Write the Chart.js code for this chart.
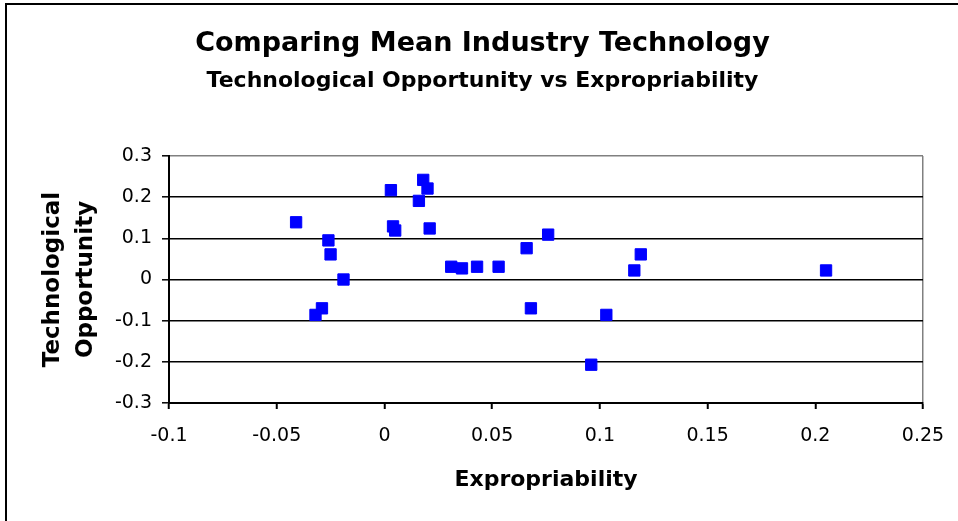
<!DOCTYPE html>
<html>
<head>
<meta charset="utf-8">
<title>Comparing Mean Industry Technology</title>
<script src="https://cdn.jsdelivr.net/npm/chart.js@4/dist/chart.umd.min.js"></script>
<style>
  html, body { margin: 0; padding: 0; background: #ffffff; }
  #wrap { position: relative; width: 958px; height: 521px; }
</style>
</head>
<body>
<div id="wrap"><canvas id="chart" width="958" height="521"></canvas></div>
<script>
// Industry means: expropriability (x) against technological opportunity (y)
const expropriability = [
  -0.041, -0.026, -0.025, -0.019, -0.029, -0.032,
   0.003,  0.004,  0.005,  0.018,  0.020,  0.016, 0.021,
   0.031,  0.036,  0.043,  0.053,  0.066,  0.076, 0.068,
   0.103,  0.096,  0.116,  0.119,  0.205
];
const techOpportunity = [
   0.139,  0.095,  0.061,  0.000, -0.070, -0.086,
   0.217,  0.129,  0.119,  0.242,  0.221,  0.191, 0.124,
   0.031,  0.027,  0.031,  0.031,  0.076,  0.109, -0.070,
  -0.086, -0.207,  0.022,  0.061,  0.022
];

const xTickValues = [-0.1, -0.05, 0, 0.05, 0.1, 0.15, 0.2, 0.25];
const xTickLabels = ['-0.1', '-0.05', '0', '0.05', '0.1', '0.15', '0.2', '0.25'];
const yTickValues = [-0.3, -0.2, -0.1, 0, 0.1, 0.2, 0.3];
const yTickLabels = ['-0.3', '-0.2', '-0.1', '0', '0.1', '0.2', '0.3'];

const titleText = 'Comparing Mean Industry Technology';
const subtitleText = 'Technological Opportunity vs Expropriability';
const xTitle = 'Expropriability';
const yTitle = ['Technological', 'Opportunity'];

const points = expropriability.map((x, i) => ({ x: x, y: techOpportunity[i] }));

const FONT = "'DejaVu Sans', 'Liberation Sans', Arial, sans-serif";

// white page with the frame lines along the left and top edges
const framePlugin = {
  id: 'frame',
  beforeDraw(chart) {
    const ctx = chart.ctx;
    ctx.save();
    ctx.fillStyle = '#ffffff';
    ctx.fillRect(0, 0, chart.width, chart.height);
    ctx.strokeStyle = '#000000';
    ctx.lineWidth = 2;
    ctx.beginPath();
    ctx.moveTo(6, 3);
    ctx.lineTo(6, chart.height);
    ctx.moveTo(5, 4);
    ctx.lineTo(chart.width, 4);
    ctx.stroke();
    ctx.restore();
  }
};

new Chart(document.getElementById('chart'), {
  type: 'scatter',
  data: {
    datasets: [{
      label: 'Industries',
      data: points,
      pointStyle: 'rect',
      pointRadius: 8,
      pointHoverRadius: 8,
      backgroundColor: '#0000ff',
      borderColor: '#0000ff',
      borderWidth: 1
    }]
  },
  options: {
    responsive: false,
    animation: false,
    events: [],
    layout: { autoPadding: false, padding: { left: 42, right: 35, top: 0, bottom: 0 } },
    plugins: {
      legend: { display: false },
      tooltip: { enabled: false },
      title: {
        display: true,
        text: titleText,
        color: '#000000',
        font: { family: FONT, size: 27, weight: 'bold', lineHeight: 1.2 },
        padding: { top: 28, bottom: 7.6 }
      },
      subtitle: {
        display: true,
        text: subtitleText,
        color: '#000000',
        font: { family: FONT, size: 22, weight: 'bold', lineHeight: 1.2 },
        padding: { top: 0, bottom: 61.6 }
      }
    },
    scales: {
      x: {
        type: 'linear',
        position: 'bottom',
        min: -0.1,
        max: 0.25,
        afterBuildTicks(scale) {
          scale.ticks = xTickValues.map(v => ({ value: v }));
        },
        afterFit(scale) { scale.height = 118; },
        ticks: {
          color: '#000000',
          font: { family: FONT, size: 19, lineHeight: 1.45 },
          padding: 13,
          maxRotation: 0,
          autoSkip: false,
          callback: (value, index) => xTickLabels[index]
        },
        grid: {
          drawTicks: true,
          tickLength: 6,
          tickWidth: 2,
          tickColor: '#000000',
          lineWidth: 1.5,
          color: ctx => (ctx.tick && ctx.tick.value === 0.25) ? '#808080' : 'rgba(0,0,0,0)'
        },
        border: { display: true, color: '#000000', width: 2 },
        title: {
          display: true,
          text: xTitle,
          color: '#000000',
          font: { family: FONT, size: 22, weight: 'bold', lineHeight: 1.2 },
          padding: { top: 0, bottom: 28 }
        }
      },
      y: {
        type: 'linear',
        position: 'left',
        min: -0.3,
        max: 0.3,
        afterBuildTicks(scale) {
          scale.ticks = yTickValues.map(v => ({ value: v }));
        },
        afterFit(scale) { scale.width = 127; },
        ticks: {
          color: '#000000',
          font: { family: FONT, size: 19 },
          padding: 10,
          autoSkip: false,
          callback: (value, index) => yTickLabels[index]
        },
        grid: {
          drawTicks: true,
          tickLength: 7,
          tickWidth: 1.5,
          tickColor: '#000000',
          lineWidth: 1.6,
          color: ctx => (ctx.tick && ctx.tick.value === 0.3) ? '#808080' : '#000000'
        },
        border: { display: true, color: '#000000', width: 2 },
        title: {
          display: true,
          text: yTitle,
          color: '#000000',
          font: { family: FONT, size: 23, weight: 'bold', lineHeight: 1.43 },
          padding: { top: -5, bottom: 0 }
        }
      }
    }
  },
  plugins: [framePlugin]
});
</script>
</body>
</html>
